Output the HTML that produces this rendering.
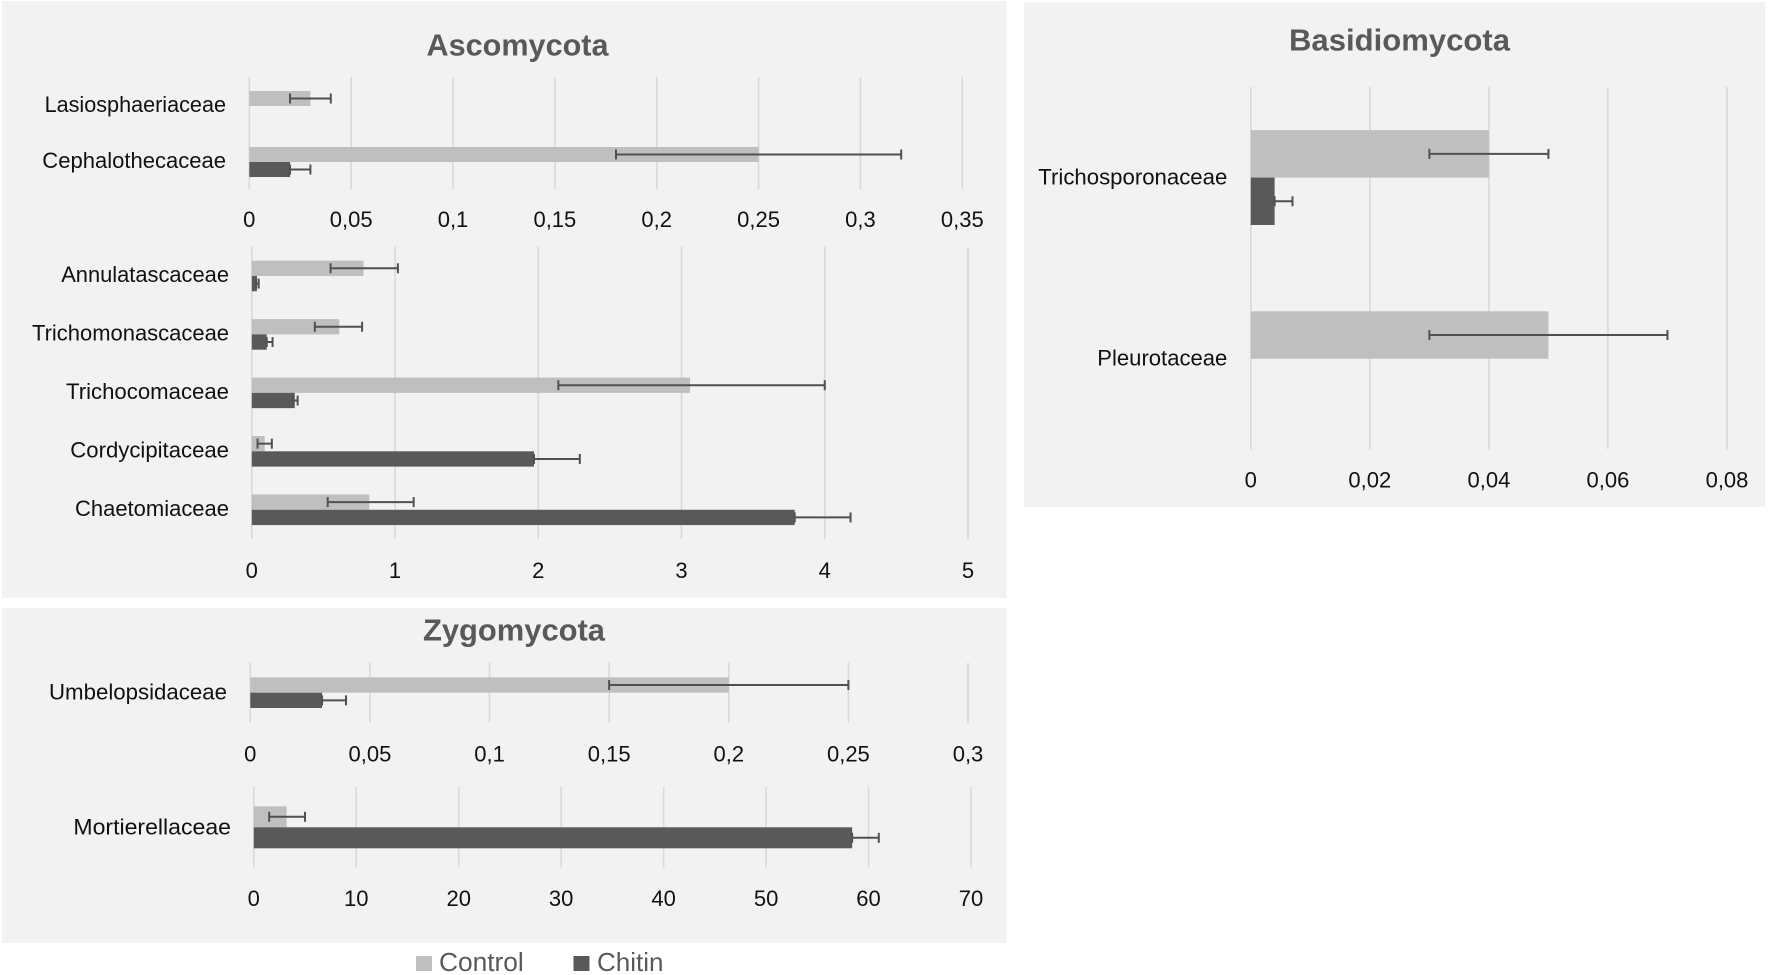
<!DOCTYPE html>
<html lang="en">
<head>
<meta charset="utf-8">
<title>Fungal family abundance by phylum</title>
<style>
  html, body { margin: 0; padding: 0; background: #fff; }
  svg { display: block; }
  text { font-family: "Liberation Sans", sans-serif; }
</style>
</head>
<body>
<svg id="figure" xmlns="http://www.w3.org/2000/svg" width="1772" height="975" viewBox="0 0 1772 975">
  <rect x="2" y="1" width="1004.5" height="597" fill="#f2f2f2"/>
  <rect x="2" y="608" width="1004.5" height="335" fill="#f2f2f2"/>
  <rect x="1024" y="2" width="741" height="505" fill="#f2f2f2"/>
  <text x="517.5" y="55.5" font-size="30.7" font-weight="bold" fill="#595959" text-anchor="middle" textLength="182" lengthAdjust="spacingAndGlyphs">Ascomycota</text>
  <text x="514" y="640.5" font-size="30.7" font-weight="bold" fill="#595959" text-anchor="middle" textLength="182" lengthAdjust="spacingAndGlyphs">Zygomycota</text>
  <text x="1399.5" y="50.5" font-size="31" font-weight="bold" fill="#595959" text-anchor="middle" textLength="221" lengthAdjust="spacingAndGlyphs">Basidiomycota</text>
  <g>
    <rect x="416" y="956" width="16" height="15" fill="#bfbfbf"/>
    <text x="439" y="971" font-size="26.3" fill="#595959">Control</text>
    <rect x="573.5" y="956" width="16" height="15" fill="#595959"/>
    <text x="597" y="971" font-size="26" fill="#595959">Chitin</text>
  </g>
</svg>
<script>
// Ascomycota, upper chart
const ascoUpperCategories = ["Lasiosphaeriaceae", "Cephalothecaceae"];
const ascoUpperTicks = ["0", "0,05", "0,1", "0,15", "0,2", "0,25", "0,3", "0,35"];
const ascoUpperControl = [0.03, 0.25];
const ascoUpperControlErr = [[0.02, 0.04], [0.18, 0.32]];
const ascoUpperChitin = [null, 0.02];
const ascoUpperChitinErr = [null, [0.02, 0.03]];

// Ascomycota, lower chart
const ascoLowerCategories = ["Annulatascaceae", "Trichomonascaceae", "Trichocomaceae", "Cordycipitaceae", "Chaetomiaceae"];
const ascoLowerTicks = ["0", "1", "2", "3", "4", "5"];
const ascoLowerControl = [0.78, 0.61, 3.06, 0.09, 0.82];
const ascoLowerControlErr = [[0.55, 1.02], [0.44, 0.77], [2.14, 4.0], [0.04, 0.14], [0.53, 1.13]];
const ascoLowerChitin = [0.036, 0.104, 0.3, 1.97, 3.79];
const ascoLowerChitinErr = [[0.03, 0.048], [0.104, 0.145], [0.29, 0.32], [1.97, 2.29], [3.79, 4.18]];

// Zygomycota, upper chart
const zygoUpperCategories = ["Umbelopsidaceae"];
const zygoUpperTicks = ["0", "0,05", "0,1", "0,15", "0,2", "0,25", "0,3"];
const zygoUpperControl = [0.2];
const zygoUpperControlErr = [[0.15, 0.25]];
const zygoUpperChitin = [0.03];
const zygoUpperChitinErr = [[0.03, 0.04]];

// Zygomycota, lower chart
const zygoLowerCategories = ["Mortierellaceae"];
const zygoLowerTicks = ["0", "10", "20", "30", "40", "50", "60", "70"];
const zygoLowerControl = [3.2];
const zygoLowerControlErr = [[1.5, 5]];
const zygoLowerChitin = [58.4];
const zygoLowerChitinErr = [[58.4, 61]];

// Basidiomycota
const basidioCategories = ["Trichosporonaceae", "Pleurotaceae"];
const basidioTicks = ["0", "0,02", "0,04", "0,06", "0,08"];
const basidioControl = [0.04, 0.05];
const basidioControlErr = [[0.03, 0.05], [0.03, 0.07]];
const basidioChitin = [0.004, null];
const basidioChitinErr = [[0.004, 0.007], null];

// Rendered label widths, to mimic the reference typeface's proportions
const labelTextWidths = {
  Lasiosphaeriaceae: 181.4, Cephalothecaceae: 183.7, Annulatascaceae: 167.8,
  Trichomonascaceae: 197, Trichocomaceae: 163, Cordycipitaceae: 158.7,
  Chaetomiaceae: 154, Umbelopsidaceae: 178, Mortierellaceae: 157.6,
  Trichosporonaceae: 189, Pleurotaceae: 130
};

const SVG_NS = "http://www.w3.org/2000/svg";
const figure = document.getElementById("figure");

function shape(parent, tag, props) {
  const el = document.createElementNS(SVG_NS, tag);
  for (const key in props) el.setAttribute(key, props[key]);
  parent.appendChild(el);
  return el;
}

function slug(text) {
  return String(text).toLowerCase().replace(/[^a-z0-9]+/g, "-");
}

function tickValue(label) {
  return parseFloat(label.replace(",", "."));
}

function drawErrorBar(group, range, y, xScale, name) {
  const bar = shape(group, "g", {});
  
  
  const stem = shape(bar, "line", { x1: xScale(range[0]), x2: xScale(range[1]), y1: y, y2: y, stroke: "#505050", "stroke-width": 2 });
  
  
  range.forEach(function (v) {
    const cap = shape(bar, "line", { x1: xScale(v), x2: xScale(v), y1: y - 5, y2: y + 5, stroke: "#505050", "stroke-width": 2 });
    
    
  });
}

function drawChart(cfg) {
  const root = shape(figure, "g", {});
  
  

  const values = cfg.ticks.map(tickValue);
  const maxTick = values[values.length - 1];
  const xScale = function (v) { return cfg.left + (v / maxTick) * (cfg.right - cfg.left); };
  const band = (cfg.bottom - cfg.top) / cfg.categories.length;
  const yCenter = function (i) { return cfg.top + (i + 0.5) * band; };
  const barShift = cfg.barShift || 0;
  const labelShift = cfg.labelShift || 0;

  cfg.ticks.forEach(function (label) {
    const v = tickValue(label);
    const grid = shape(root, "line", { x1: xScale(v), x2: xScale(v), y1: cfg.top, y2: cfg.bottom, stroke: "#d9d9d9", "stroke-width": 1.6 });
    
    
    const tick = shape(root, "text", { x: xScale(v), y: cfg.tickBaseline, "font-size": 22, fill: "#111", "text-anchor": "middle" });
    
    
    tick.textContent = label;
  });

  cfg.categories.forEach(function (cat, i) {
    const c = yCenter(i) + barShift;
    const label = shape(root, "text", { x: cfg.labelRight, y: yCenter(i) + 7 + labelShift, "font-size": 22, fill: "#111", "text-anchor": "end", textLength: labelTextWidths[cat], lengthAdjust: "spacingAndGlyphs" });
    
    
    label.textContent = cat;

    if (cfg.control[i] !== null) {
      const bar = shape(root, "rect", { x: xScale(0), y: c - cfg.barHeight, width: xScale(cfg.control[i]) - xScale(0), height: cfg.barHeight, fill: "#bfbfbf" });
      
      
    }
    if (cfg.chitin[i] !== null) {
      const bar = shape(root, "rect", { x: xScale(0), y: c, width: xScale(cfg.chitin[i]) - xScale(0), height: cfg.barHeight, fill: "#595959" });
      
      
    }
    if (cfg.controlErr[i]) {
      drawErrorBar(root, cfg.controlErr[i], c - cfg.barHeight / 2, xScale, 'error-bar-control-' + slug(cat));
    }
    if (cfg.chitinErr[i]) {
      drawErrorBar(root, cfg.chitinErr[i], c + cfg.barHeight / 2, xScale, 'error-bar-chitin-' + slug(cat));
    }
  });
}

drawChart({
  name: "ascomycota-upper-chart", categories: ascoUpperCategories, ticks: ascoUpperTicks,
  control: ascoUpperControl, controlErr: ascoUpperControlErr, chitin: ascoUpperChitin, chitinErr: ascoUpperChitinErr,
  left: 249.3, right: 962.3, top: 77, bottom: 189, barHeight: 15, barShift: 1, labelRight: 226, tickBaseline: 227
});
drawChart({
  name: "ascomycota-lower-chart", categories: ascoLowerCategories, ticks: ascoLowerTicks,
  control: ascoLowerControl, controlErr: ascoLowerControlErr, chitin: ascoLowerChitin, chitinErr: ascoLowerChitinErr,
  left: 251.8, right: 968, top: 246.7, bottom: 539, barHeight: 15.3, labelShift: -1, labelRight: 229, tickBaseline: 578
});
drawChart({
  name: "zygomycota-upper-chart", categories: zygoUpperCategories, ticks: zygoUpperTicks,
  control: zygoUpperControl, controlErr: zygoUpperControlErr, chitin: zygoUpperChitin, chitinErr: zygoUpperChitinErr,
  left: 250.3, right: 968, top: 662.7, bottom: 722.7, barHeight: 15.3, labelRight: 227, tickBaseline: 761.5
});
drawChart({
  name: "zygomycota-lower-chart", categories: zygoLowerCategories, ticks: zygoLowerTicks,
  control: zygoLowerControl, controlErr: zygoLowerControlErr, chitin: zygoLowerChitin, chitinErr: zygoLowerChitinErr,
  left: 253.8, right: 971, top: 787, bottom: 867.6, barHeight: 21, labelRight: 231, tickBaseline: 906
});
drawChart({
  name: "basidiomycota-chart", categories: basidioCategories, ticks: basidioTicks,
  control: basidioControl, controlErr: basidioControlErr, chitin: basidioChitin, chitinErr: basidioChitinErr,
  left: 1250.8, right: 1727, top: 87, bottom: 449.3, barHeight: 47.4, labelRight: 1227.3, tickBaseline: 487.3
});
</script>
</body>
</html>
